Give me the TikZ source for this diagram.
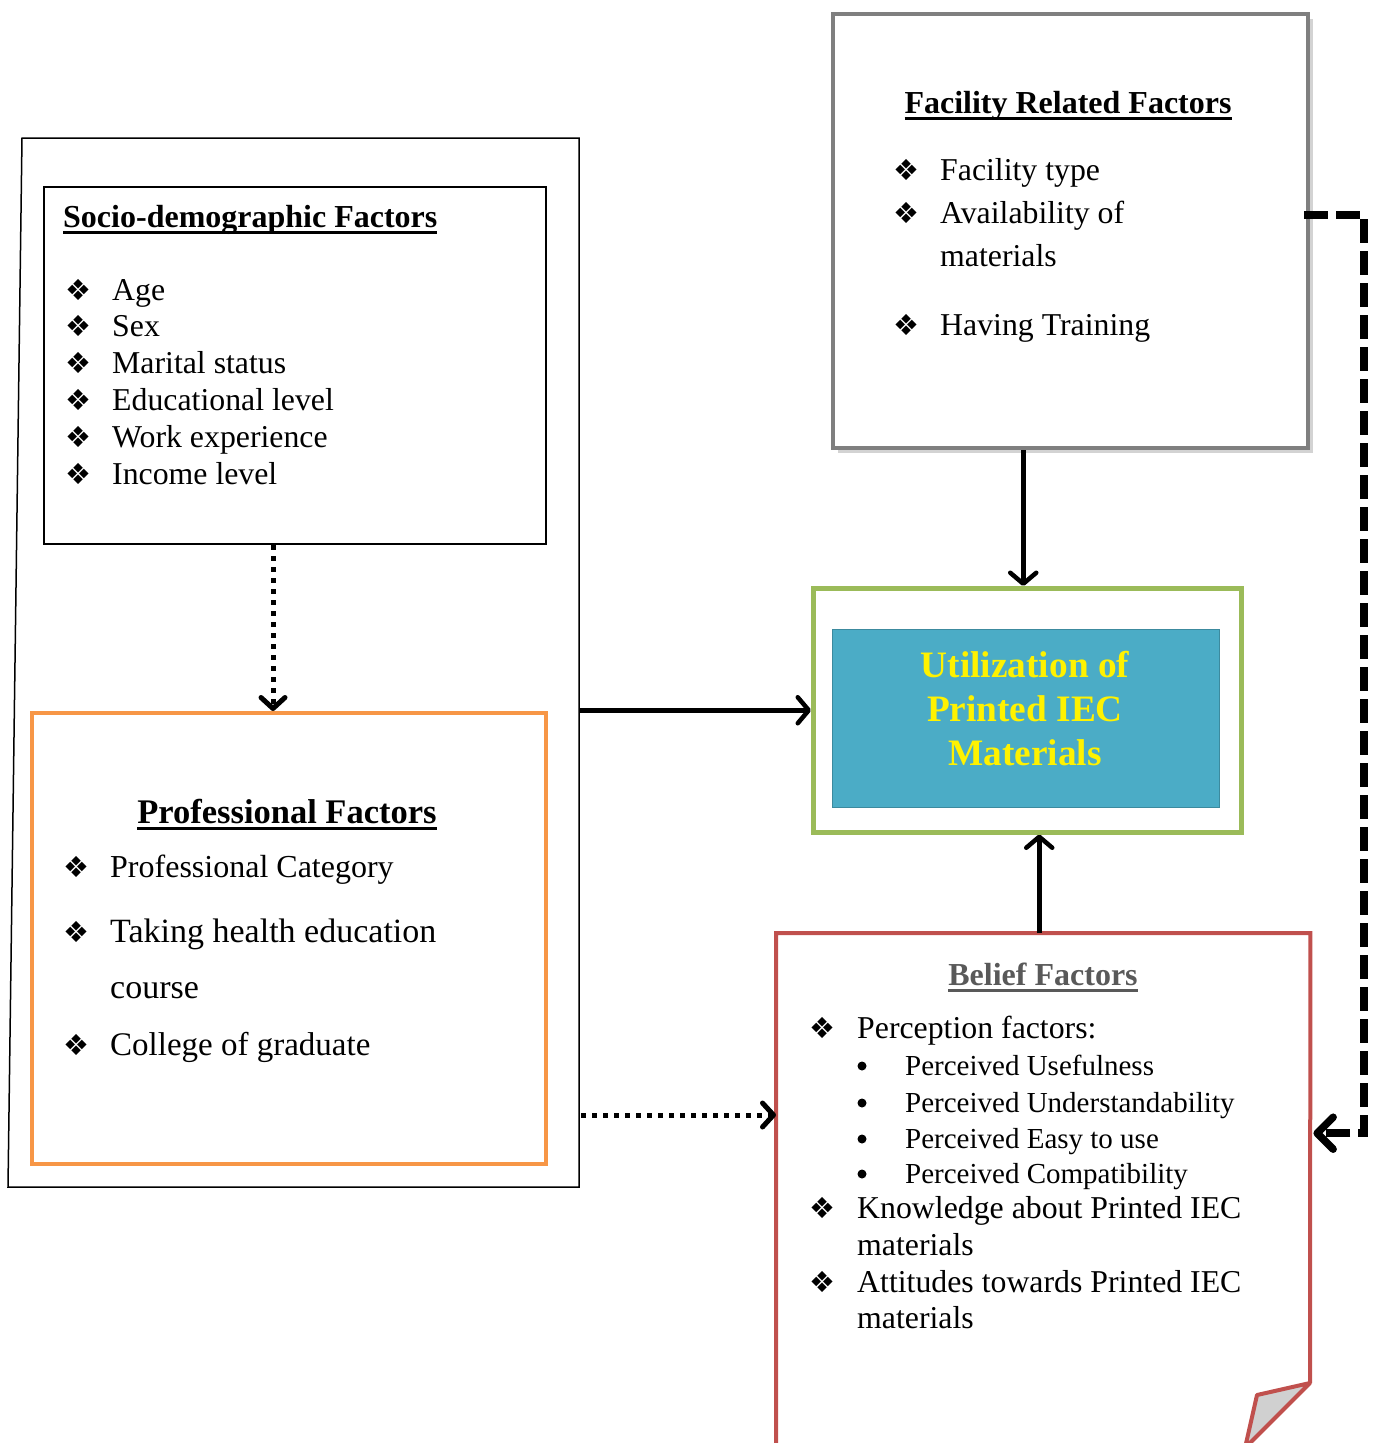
\documentclass[tikz,border=0pt]{standalone}
\usepackage{fontspec}
\setmainfont{Liberation Serif}
\newfontfamily\dingfont{DejaVu Sans}
\usetikzlibrary{arrows.meta,shadows}

\definecolor{profOrange}{HTML}{F79646}
\definecolor{utilGreen}{HTML}{9BBB59}
\definecolor{utilTeal}{HTML}{4BACC6}
\definecolor{beliefRed}{HTML}{C0504D}
\definecolor{facGray}{HTML}{7F7F7F}
\definecolor{titleGray}{HTML}{595959}
\definecolor{foldGray}{HTML}{D0D0D0}

\newsavebox\undlbox
\newcommand{\undl}[1]{\sbox\undlbox{#1}\rlap{\rule[-6.5pt]{\wd\undlbox}{2.5pt}}\usebox\undlbox}
\newcommand{\dia}{{\dingfont ❖}}

\begin{document}
\begin{tikzpicture}[x=1pt, y=-1pt]

    % let's define some key values
    \def\bodysize{\fontsize{31.8}{37}\selectfont}
    \def\subsize{\fontsize{29}{34}\selectfont}
    \def\titlesize{\bfseries\fontsize{32}{38}\selectfont}

    % Styles
    \tikzstyle{box}=[draw, inner sep=0pt, anchor=north west]
    \tikzstyle{ttl}=[anchor=base, inner sep=0pt, font=\titlesize]
    \tikzstyle{item}=[anchor=base west, inner sep=0pt, font=\bodysize]
    \tikzstyle{subitem}=[anchor=base west, inner sep=0pt, font=\subsize]
    \tikzstyle{dia}=[anchor=base, inner sep=0pt, font=\dingfont\fontsize{29}{29}\selectfont]
    \tikzstyle{dot}=[circle, fill, inner sep=0pt, minimum size=9pt]
    \tikzstyle{solidarrow}=[line width=4.5pt, -{Straight Barb[length=11pt,width=26pt,round]}]
    \tikzstyle{dotarrow}=[line width=5pt, dash pattern=on 5pt off 6pt, -{Straight Barb[length=11pt,width=24pt,round]}]
    \tikzstyle{dasharrow}=[line width=7.5pt, dash pattern=on 24pt off 8pt, -{Straight Barb[length=16pt,width=32pt,round]}]

    \clip (0,0) rectangle (1373,1443);

    % outer frame
    \coordinate (otl) at (22,138);
    \coordinate (otr) at (579,138);
    \coordinate (obr) at (579,1187);
    \coordinate (obl) at (8,1187);
    \coordinate (outB) at (581,1115);
    \draw[line width=1.5pt] (otl) -- (otr) -- (obr) -- (obl) -- cycle;

    % boxes
    \node[box, line width=2pt, minimum width=502pt, minimum height=357pt] (socio) at (43,186) {};
    \node[box, line width=4pt, draw=profOrange, minimum width=514pt, minimum height=451pt] (prof) at (30,711) {};
    \node[box, line width=4pt, draw=facGray, fill=white, minimum width=475pt, minimum height=434pt,
          drop shadow={shadow xshift=5pt, shadow yshift=-5pt, opacity=0.35}] (fac) at (831,12) {};
    \node[box, line width=4.5pt, draw=utilGreen, minimum width=428pt, minimum height=244pt] (util) at (811,586) {};
    \node[box, draw=utilTeal!80!black, line width=0.8pt, fill=utilTeal, minimum width=387pt, minimum height=178pt] (utilin) at (832,629) {};
    \node[box, draw=none, minimum width=534pt, minimum height=530pt] (belief) at (776,933) {};

    % belief outline with folded corner
    \coordinate (fold1) at (1310,1383);
    \coordinate (fold2) at (1257,1395);
    \coordinate (fold3) at (1245,1448);
    \draw[line width=4pt, beliefRed] (belief.south west) -- (belief.north west) -- (belief.north east) -- (fold1);
    \filldraw[line width=4pt, beliefRed, fill=foldGray, line join=round] (fold1) -- (fold2) -- (fold3) -- cycle;

    % socio-demographic factors
    \node[ttl, anchor=base west] (sdt) at (63,227) {\undl{Socio-demographic Factors}};
    \foreach \y/\t [count=\i] in {300/Age, 336/Sex, 373/Marital status, 410/Educational level, 447/Work experience, 484/Income level}
    {
        \node[dia] (sdb\i) at (78,\y) {\dia};
        \node[item] (sd\i) at (112,\y) {\t};
    }

    % facility related factors
    \node[ttl] (frt) at (1068,113) {\undl{Facility Related Factors}};
    \node[dia] (frb1) at (906,180) {\dia};
    \node[item] (fr1) at (940,180) {Facility type};
    \node[dia] (frb2) at (906,223) {\dia};
    \node[item] (fr2) at (940,223) {Availability of};
    \node[item] (fr3) at (940,266) {materials};
    \node[dia] (frb4) at (906,335) {\dia};
    \node[item] (fr4) at (940,335) {Having Training};

    % professional factors
    \node[ttl, font=\bfseries\fontsize{34.5}{40}\selectfont] (pft) at (287,823) {\undl{Professional Factors}};
    \node[dia] (pfb1) at (76,877) {\dia};
    \node[item, font=\fontsize{32}{38}\selectfont] (pf1) at (110,877) {Professional Category};
    \node[dia] (pfb2) at (76,942) {\dia};
    \node[item, font=\fontsize{34}{38}\selectfont] (pf2) at (110,942) {Taking health education};
    \node[item, font=\fontsize{34}{38}\selectfont] (pf3) at (110,998) {course};
    \node[dia] (pfb4) at (76,1055) {\dia};
    \node[item, font=\fontsize{33}{38}\selectfont] (pf4) at (110,1055) {College of graduate};

    % utilization
    \node[align=center, text=yellow, inner sep=0pt, font=\bfseries\fontsize{37.3}{44}\selectfont] (utilt) at (1025,709)
        {Utilization of\\Printed IEC\\Materials};

    % belief factors
    \node[ttl, text=titleGray] (bft) at (1043,985) {\undl{Belief Factors}};
    \node[dia] (bfb1) at (822,1038) {\dia};
    \node[item] (bf1) at (857,1038) {Perception factors:};
    \foreach \y/\t [count=\i] in {1075/Perceived Usefulness, 1112/Perceived Understandability, 1148/Perceived Easy to use, 1183/Perceived Compatibility}
    {
        \node[dot] (bsb\i) at (862,\y-9) {};
        \node[subitem] (bs\i) at (905,\y) {\t};
    }
    \node[dia] (bfb2) at (822,1218) {\dia};
    \node[item] (bf2) at (857,1218) {Knowledge about Printed IEC};
    \node[item] (bf3) at (857,1255) {materials};
    \node[dia] (bfb4) at (822,1292) {\dia};
    \node[item] (bf4) at (857,1292) {Attitudes towards Printed IEC};
    \node[item] (bf5) at (857,1328) {materials};

    % connectors
    \draw[dotarrow] ([xshift=-22pt]socio.south) -- ([xshift=-22pt]socio.south |- prof.north);
    \draw[solidarrow] (util.west -| otr) -- (util.west);
    \draw[dotarrow] (outB) -- (outB -| belief.west);
    \draw[solidarrow] ([xshift=-4pt]util.north |- fac.south) -- ([xshift=-4pt]util.north);
    \draw[solidarrow] ([xshift=12pt]util.south |- belief.north) -- ([xshift=12pt]util.south);
    \draw[dasharrow] ([xshift=-6pt,yshift=16pt]fac.east) -- ++(60,0) |- ([xshift=3pt,yshift=65pt]belief.east);

\end{tikzpicture}
\end{document}
